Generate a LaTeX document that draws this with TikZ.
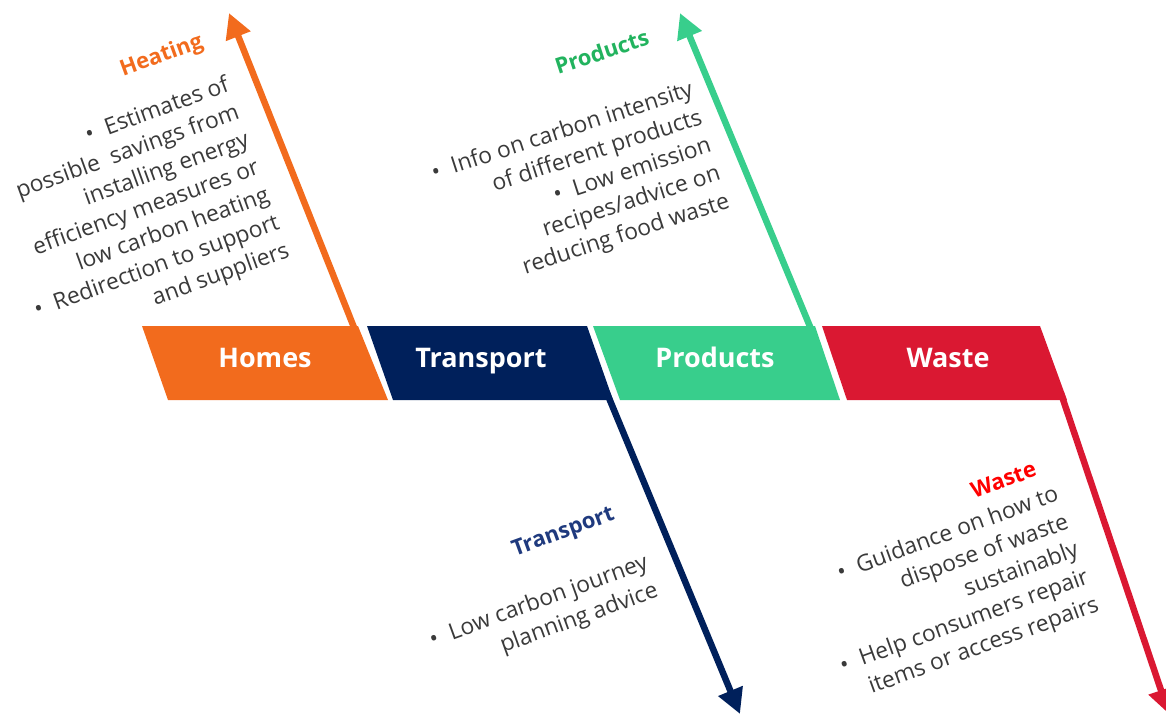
\documentclass[tikz,border=0pt]{standalone}
\usepackage{fontspec}
\setmainfont{Open Sans}
\usetikzlibrary{arrows.meta}
\definecolor{homescol}{HTML}{F26B1D}
\definecolor{transcol}{HTML}{00205B}
\definecolor{prodcol}{HTML}{38CE8C}
\definecolor{wastecol}{HTML}{DA1832}
\definecolor{prodhead}{HTML}{22B35E}
\definecolor{transhead}{HTML}{1F3A7E}
\definecolor{wastehead}{HTML}{FF0000}
\definecolor{bodycol}{HTML}{3A3A3A}
\tikzstyle{boxlabel}=[text=white, font=\fontsize{27}{32}\selectfont\bfseries, anchor=base, inner sep=0pt]
\tikzstyle{heading}=[font=\fontsize{22}{26}\selectfont\bfseries, anchor=base east, inner sep=0pt]
\tikzstyle{bodytext}=[text=bodycol, font=\fontsize{22.8}{29.4}\selectfont, align=right, anchor=north east, inner sep=0pt]
\tikzstyle{bone}=[line width=6.5pt, -{Triangle[length=25pt,width=25pt]}]

\begin{document}
\begin{tikzpicture}[x=1pt,y=-1pt]
	\useasboundingbox (0,0) rectangle (1166,715);

	% category boxes
	\fill[homescol] (142,326) -- (358,326) -- (388,400) -- (168,400) -- cycle;
	\fill[transcol] (367,326) -- (587,326) -- (613,400) -- (393,400) -- cycle;
	\fill[prodcol] (593,326) -- (815,326) -- (840,400) -- (620,400) -- cycle;
	\fill[wastecol] (822,326) -- (1040,326) -- (1067,400) -- (847,400) -- cycle;

	\node[boxlabel] (homes) at (265,367) {Homes};
	\node[boxlabel] (transport) at (481,367) {Transport};
	\node[boxlabel] (products) at (715,367) {Products};
	\node[boxlabel] (waste) at (948,367) {Waste};

	% arrow ends
	\coordinate (homesbone) at (357,335);
	\coordinate (heattip) at (229,13);
	\coordinate (prodbone) at (813.5,335);
	\coordinate (prodtip) at (680,13);
	\coordinate (transbone) at (606.5,392);
	\coordinate (transtip) at (740,714);
	\coordinate (wastebone) at (1060.5,392);
	\coordinate (wastetip) at (1169,714);

	\draw[bone,homescol] (homesbone) -- (heattip);
	\draw[bone,prodcol] (prodbone) -- (prodtip);
	\draw[bone,transcol] (transbone) -- (transtip);
	\draw[bone,wastecol] (wastebone) -- (wastetip);

	% headings and advice
	\node[heading,homescol,rotate=20] (heathead) at (204.4,46.9) {Heating};
	\node[bodytext,rotate=20] (heatbody) at (224.5,74) {\textbullet\hspace{12pt}Estimates of\\
		possible\ \ savings from\\
		installing energy\\
		efficiency measures or\\
		low carbon heating\\
		\textbullet\hspace{12pt}Redirection to support\\
		and suppliers};

	\node[heading,prodhead,rotate=18] (prodhead) at (650.6,44.5) {Products};
	\node[bodytext,rotate=18] (prodbody) at (689.1,78.9) {\textbullet\hspace{12pt}Info on carbon intensity\\
		of different products\\
		\textbullet\hspace{12pt}Low emission\\
		recipes/advice on\\
		reducing food waste};

	\node[heading,transhead,rotate=20] (transhead) at (615.7,519.4) {Transport};
	\node[bodytext,rotate=20] (transbody) at (643.5,551.9) {\textbullet\hspace{12pt}Low carbon journey\\
		planning advice};

	\node[heading,wastehead,rotate=20] (wastehead) at (1038.1,475.3) {Waste};
	\node[bodytext,rotate=20] (wastebody) at (1054,483.7) {\textbullet\hspace{12pt}Guidance on how to\\
		dispose of waste\\
		sustainably\\
		\textbullet\hspace{12pt}Help consumers repair\\
		items or access repairs};

\end{tikzpicture}
\end{document}
